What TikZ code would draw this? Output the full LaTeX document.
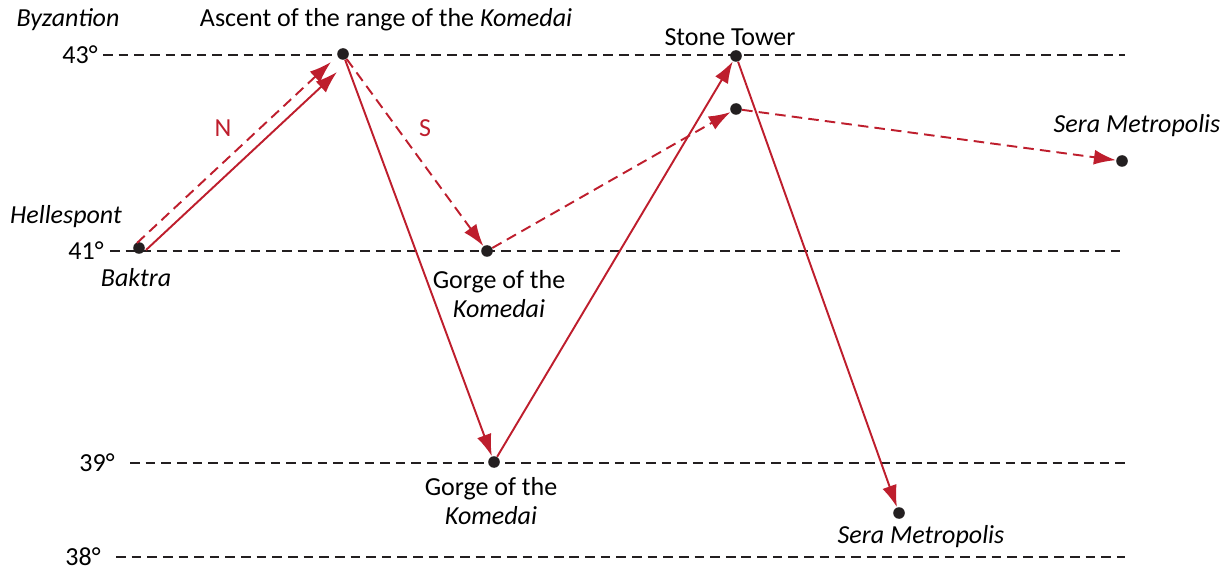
\documentclass[tikz,border=0pt]{standalone}
\usepackage{fontspec}
\setmainfont{Carlito}
\usepackage{xcolor}
\usetikzlibrary{arrows.meta,calc,positioning}
\definecolor{routered}{RGB}{190,30,45}
\definecolor{inkgray}{RGB}{35,31,32}

\begin{document}
\begin{tikzpicture}[x=0.02cm,y=-0.02cm,font=\fontsize{14.8}{17}\selectfont,
  dot/.style={circle,fill=inkgray,inner sep=0pt,minimum size=6.6pt},
  latline/.style={inkgray,line width=1.1pt,dash pattern=on 5.5pt off 3.4pt},
  route/.style={routered,line width=1.1pt,-{Latex[length=12.5pt,width=8.5pt]}},
  rdash/.style={dash pattern=on 6pt off 3.5pt},
  lbl/.style={inner sep=0pt,align=center}]
  \useasboundingbox (0,0) rectangle (1229,570);
  % latitude lines
  \foreach \lat/\y/\x/\s in {43/55/80/103,41/251/86/110,39/463/97/130,38/557/83/116} {
    \node[lbl] (lat\lat) at (\x,\y) {\lat°};
    \coordinate (s\lat) at (\s,\y);
    \coordinate (e\lat) at (1125,\y);
    \draw[latline] (s\lat) -- (e\lat);
  }
  % places
  \node[dot] (baktra) at (139,248) {};
  \node[dot] (ascent) at (343,54) {};
  \node[dot] (gorgeN) at (487,251) {};
  \node[dot] (gorgeS) at (494,462) {};
  \node[dot] (tower) at (736,56) {};
  \node[dot] (towerN) at (736,109) {};
  \node[dot] (seraN) at (1122,161) {};
  \node[dot] (seraS) at (899,513) {};
  \node[lbl] (byz) at (68,20) {\textit{Byzantion}};
  \node[lbl] (hell) at (66,217) {\textit{Hellespont}};
  \node[lbl] (baklbl) at (136,278) {\textit{Baktra}};
  \node[lbl] (asclbl) at (386,20) {Ascent of the range of the \textit{Komedai}};
  \node[lbl] (towlbl) at (730,37) {Stone Tower};
  \node[lbl] (seraNlbl) at (1137,126) {\textit{Sera Metropolis}};
  \node[lbl] (seraSlbl) at (921,537) {\textit{Sera Metropolis}};
  \node[lbl] (gorNlbl) at (499,294) {Gorge of the\\ \textit{Komedai}};
  \node[lbl] (gorSlbl) at (491,501) {Gorge of the\\ \textit{Komedai}};
  \node[lbl,text=routered] (north) at (223,128) {N};
  \node[lbl,text=routered] (south) at (425,128) {S};
  % routes
  \draw[route,rdash] ([shift={(-2,-5)}]baktra.center) -- ([shift={(-12,8)}]ascent.center);
  \draw[route] ([shift={(7,2)}]baktra.center) -- ([shift={(-6,18)}]ascent.center);
  \draw[route] (ascent) -- (gorgeS);
  \draw[route,rdash] (ascent) -- (gorgeN);
  \draw[route] (gorgeS) -- (tower);
  \draw[route,rdash] (gorgeN) -- (towerN);
  \draw[route] (tower) -- (seraS);
  \draw[route,rdash] (towerN) -- (seraN);
\end{tikzpicture}
\end{document}
